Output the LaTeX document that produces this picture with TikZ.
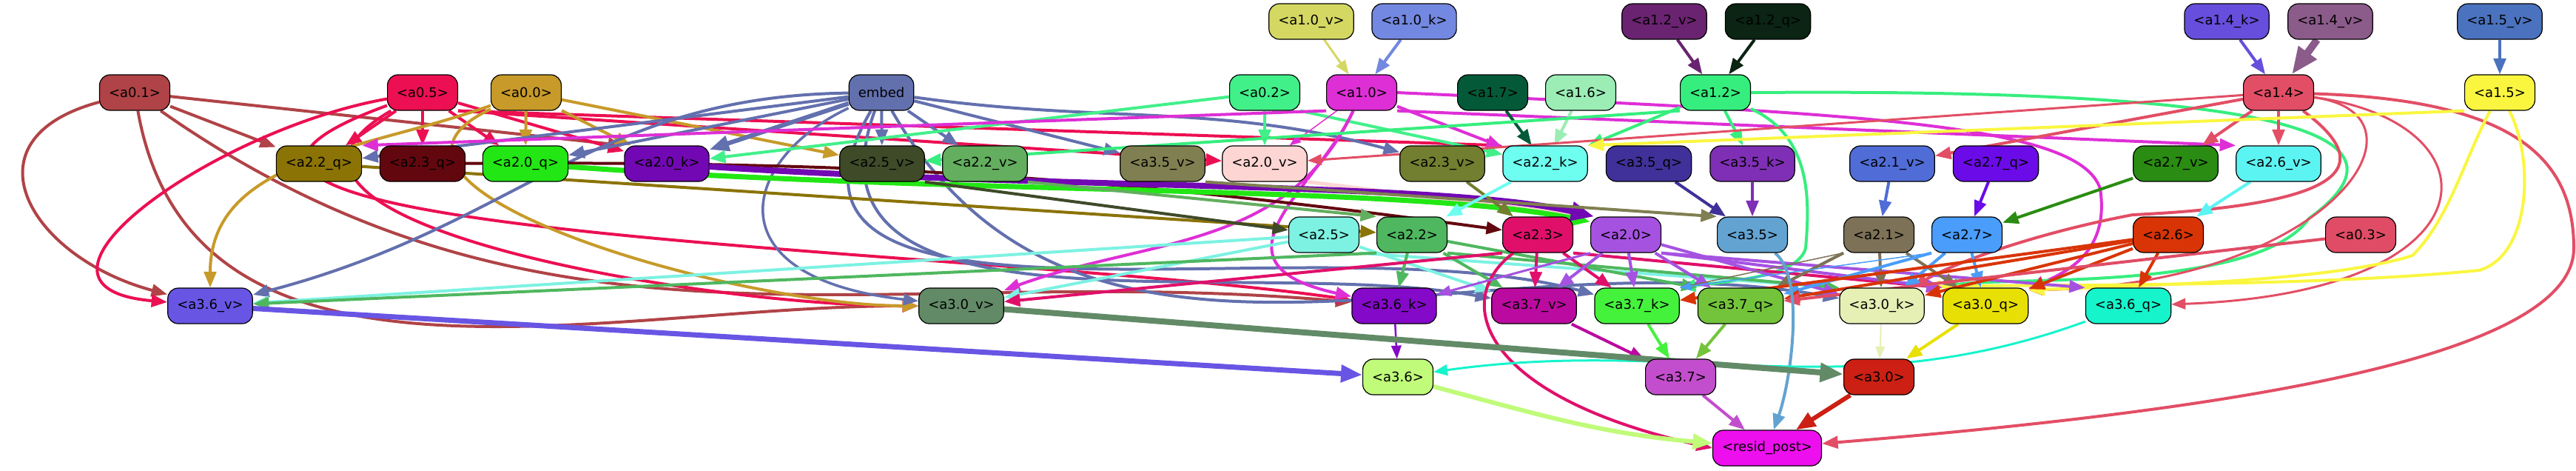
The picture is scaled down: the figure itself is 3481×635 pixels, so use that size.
\documentclass[tikz,border=0pt]{standalone}
\usepackage{fontspec}
\setmainfont{DejaVu Sans}
\usetikzlibrary{arrows.meta,backgrounds}
\definecolor{c10v}{HTML}{D4D862}
\definecolor{c10k}{HTML}{7388E0}
\definecolor{c12v}{HTML}{6A2370}
\definecolor{c12q}{HTML}{0B2413}
\definecolor{c14k}{HTML}{674EDC}
\definecolor{c14v}{HTML}{8B5B8A}
\definecolor{c15v}{HTML}{4A72BE}
\definecolor{c01}{HTML}{B04347}
\definecolor{c05}{HTML}{EC0F52}
\definecolor{c00}{HTML}{C79A29}
\definecolor{cembed}{HTML}{6370AE}
\definecolor{c02}{HTML}{42F08A}
\definecolor{c10}{HTML}{DE2FD6}
\definecolor{c17}{HTML}{045A38}
\definecolor{c16}{HTML}{9BEDB5}
\definecolor{c12}{HTML}{36EE7E}
\definecolor{c14}{HTML}{E24E65}
\definecolor{c15}{HTML}{FAF640}
\definecolor{c22q}{HTML}{8B7306}
\definecolor{c23q}{HTML}{63070F}
\definecolor{c20q}{HTML}{22E714}
\definecolor{c20k}{HTML}{7208B3}
\definecolor{c25v}{HTML}{3F4A29}
\definecolor{c22v}{HTML}{63AE5F}
\definecolor{c35v}{HTML}{7F7F51}
\definecolor{c20v}{HTML}{FDD5D3}
\definecolor{c23v}{HTML}{727E30}
\definecolor{c22k}{HTML}{6DFEF0}
\definecolor{c35q}{HTML}{3F3199}
\definecolor{c35k}{HTML}{7F2FB5}
\definecolor{c21v}{HTML}{506CD7}
\definecolor{c27q}{HTML}{6B0BE8}
\definecolor{c27v}{HTML}{2A8C12}
\definecolor{c26v}{HTML}{5CF4F2}
\definecolor{c25}{HTML}{7DF2E2}
\definecolor{c22}{HTML}{4FB75F}
\definecolor{c23}{HTML}{E0106A}
\definecolor{c20}{HTML}{A552E1}
\definecolor{c35}{HTML}{63A3D1}
\definecolor{c21}{HTML}{7D7257}
\definecolor{c27}{HTML}{4A9DFA}
\definecolor{c26}{HTML}{D93406}
\definecolor{c03}{HTML}{E04C65}
\definecolor{c36v}{HTML}{6855E4}
\definecolor{c30v}{HTML}{628A67}
\definecolor{c36k}{HTML}{8409C8}
\definecolor{c37v}{HTML}{BB0AA0}
\definecolor{c37k}{HTML}{44F23C}
\definecolor{c37q}{HTML}{73C43A}
\definecolor{c30k}{HTML}{E6EFB4}
\definecolor{c30q}{HTML}{E8E005}
\definecolor{c36q}{HTML}{16F4CC}
\definecolor{c36}{HTML}{C0FB7A}
\definecolor{c37}{HTML}{C34ECD}
\definecolor{c30}{HTML}{CB2013}
\definecolor{cresid}{HTML}{EE0FEF}
\tikzset{
  headbox/.style={draw=black,line width=0.12pt,rounded corners=1.4pt,minimum height=4.8pt,
    inner xsep=1.25pt,inner ysep=0.3pt,font=\fontsize{1.8}{2.2}\selectfont}
}
\begin{document}
\begin{tikzpicture}[x=0.1pt,y=0.1pt]
  \useasboundingbox (0,0) rectangle (3481,635);
  \draw
    (1772,606) node[headbox,fill=c10v] (a10v){<a1.0\_v>}
    (1911,606) node[headbox,fill=c10k] (a10k){<a1.0\_k>}
    (2249,606) node[headbox,fill=c12v] (a12v){<a1.2\_v>}
    (2389,606) node[headbox,fill=c12q] (a12q){<a1.2\_q>}
    (3009,606) node[headbox,fill=c14k] (a14k){<a1.4\_k>}
    (3149,606) node[headbox,fill=c14v] (a14v){<a1.4\_v>}
    (3378,606) node[headbox,fill=c15v] (a15v){<a1.5\_v>}
    (182,510) node[headbox,fill=c01] (a01){<a0.1>}
    (571,510) node[headbox,fill=c05] (a05){<a0.5>}
    (711,510) node[headbox,fill=c00] (a00){<a0.0>}
    (1191,510) node[headbox,fill=cembed] (embed){embed}
    (1709,510) node[headbox,fill=c02] (a02){<a0.2>}
    (1840,510) node[headbox,fill=c10] (a10){<a1.0>}
    (2017,510) node[headbox,fill=c17] (a17){<a1.7>}
    (2136,510) node[headbox,fill=c16] (a16){<a1.6>}
    (2318,510) node[headbox,fill=c12] (a12){<a1.2>}
    (3079,510) node[headbox,fill=c14] (a14){<a1.4>}
    (3378,510) node[headbox,fill=c15] (a15){<a1.5>}
    (431,414) node[headbox,fill=c22q] (a22q){<a2.2\_q>}
    (571,414) node[headbox,fill=c23q] (a23q){<a2.3\_q>}
    (710,414) node[headbox,fill=c20q] (a20q){<a2.0\_q>}
    (901,414) node[headbox,fill=c20k] (a20k){<a2.0\_k>}
    (1192,414) node[headbox,fill=c25v] (a25v){<a2.5\_v>}
    (1331,414) node[headbox,fill=c22v] (a22v){<a2.2\_v>}
    (1571,414) node[headbox,fill=c35v] (a35v){<a3.5\_v>}
    (1709,414) node[headbox,fill=c20v] (a20v){<a2.0\_v>}
    (1949,414) node[headbox,fill=c23v] (a23v){<a2.3\_v>}
    (2088,414) node[headbox,fill=c22k] (a22k){<a2.2\_k>}
    (2228,414) node[headbox,fill=c35q] (a35q){<a3.5\_q>}
    (2368,414) node[headbox,fill=c35k] (a35k){<a3.5\_k>}
    (2557,414) node[headbox,fill=c21v] (a21v){<a2.1\_v>}
    (2697,414) node[headbox,fill=c27q] (a27q){<a2.7\_q>}
    (2940,414) node[headbox,fill=c27v] (a27v){<a2.7\_v>}
    (3079,414) node[headbox,fill=c26v] (a26v){<a2.6\_v>}
    (1789,318) node[headbox,fill=c25] (a25){<a2.5>}
    (1908,318) node[headbox,fill=c22] (a22){<a2.2>}
    (2078,318) node[headbox,fill=c23] (a23){<a2.3>}
    (2197,318) node[headbox,fill=c20] (a20){<a2.0>}
    (2368,318) node[headbox,fill=c35] (a35){<a3.5>}
    (2539,318) node[headbox,fill=c21] (a21){<a2.1>}
    (2658,318) node[headbox,fill=c27] (a27){<a2.7>}
    (2930,318) node[headbox,fill=c26] (a26){<a2.6>}
    (3190,318) node[headbox,fill=c03] (a03){<a0.3>}
    (284,222) node[headbox,fill=c36v] (a36v){<a3.6\_v>}
    (1299,222) node[headbox,fill=c30v] (a30v){<a3.0\_v>}
    (1884,222) node[headbox,fill=c36k] (a36k){<a3.6\_k>}
    (2073,222) node[headbox,fill=c37v] (a37v){<a3.7\_v>}
    (2212,222) node[headbox,fill=c37k] (a37k){<a3.7\_k>}
    (2352,222) node[headbox,fill=c37q] (a37q){<a3.7\_q>}
    (2543,222) node[headbox,fill=c30k] (a30k){<a3.0\_k>}
    (2683,222) node[headbox,fill=c30q] (a30q){<a3.0\_q>}
    (2876,222) node[headbox,fill=c36q] (a36q){<a3.6\_q>}
    (1889,126) node[headbox,fill=c36] (a36){<a3.6>}
    (2271,126) node[headbox,fill=c37] (a37){<a3.7>}
    (2539,126) node[headbox,fill=c30] (a30){<a3.0>}
    (2388,30) node[headbox,fill=cresid] (resid){<resid\_post>};
  \begin{scope}[on background layer,line width=0.05pt,-{Triangle[length=1.15pt 2.5,width=0.85pt 2]}]
    \draw[c10v,line width=0.3pt] (a10v) to (a10);
    \draw[c10k] (a10k) to (a10);
    \draw[c12v] (a12v) to (a12);
    \draw[c12q] (a12q) to (a12);
    \draw[c14k] (a14k) to (a14);
    \draw[c14v,line width=1pt] (a14v) to (a14);
    \draw[c15v] (a15v) to (a15);
    \draw[c01] (a01) to (a22q);
    \draw[c01] (a01) to (a20k.north west);
    \draw[c01] (a01) to[out=195,in=165,looseness=1.8] (a36v);
    \draw[c01] (a01) to[out=-80,in=180] (a30v);
    \draw[c01] (a01) to[out=-35,in=175] (a36k);
    \draw[c05] (a05) to (a22q);
    \draw[c05] (a05) to (a23q);
    \draw[c05] (a05) to (a20q);
    \draw[c05] (a05) to (a20k);
    \draw[c05] (a05.south east) to (a20v);
    \draw[c05] (a05.south east) to (a22k.north west);
    \draw[c05] (a05) to[out=190,in=175,looseness=1.5] (a36v);
    \draw[c05] (a05) to[out=210,in=180] (a30v);
    \draw[c05] (a05) to[out=200,in=172] (a36k);
    \draw[c00] (a00) to (a20q);
    \draw[c00] (a00) to (a20k);
    \draw[c00] (a00) to (a25v);
    \draw[c00] (a00) to[out=200,in=90] (a36v);
    \draw[c00] (a00) to[out=205,in=180] (a30v);
    \draw[cembed,line width=0.4pt] (embed) to (a20q);
    \draw[cembed,line width=0.6pt] (embed) to (a20k);
    \draw[cembed,line width=0.4pt] (embed) .. controls (800,505) and (700,330) .. (a36v);
    \draw[cembed,line width=0.35pt] (embed) .. controls (1000,420) and (960,260) .. (a30v);
    \draw[cembed] (embed) to (a22q);
    \draw[cembed] (embed) to (a25v);
    \draw[cembed] (embed) to (a22v);
    \draw[cembed] (embed) to (a35v);
    \draw[cembed] (embed) to[out=-8,in=165] (a23v);
    \draw[cembed] (embed) to[out=-110,in=170] (a37v);
    \draw[cembed] (embed) to[out=-120,in=165] (a37k);
    \draw[cembed] (embed) to[out=-60,in=170] (a30k);
    \draw[c02] (a02) to (a20v);
    \draw[c02] (a02) to (a20k);
    \draw[c02] (a02.south east) to (a22k);
    \draw[c10,line width=0.15pt] (a10) to (a20v);
    \draw[c10] (a10) to (a22k);
    \draw[c10] (a10.south west) to (a22q.north east);
    \draw[c10] (a10.south east) to (a26v.north west);
    \draw[c10] (a10) .. controls (1780,380) and (1620,280) .. (a36k);
    \draw[c10] (a10) to[out=245,in=20] (a30v);
    \draw[c10] (a10.east) .. controls (2500,482) and (2810,470) .. (2838,380)
      .. controls (2850,300) and (2800,270) .. (a30q);
    \draw[c17] (a17) to (a22k);
    \draw[c16] (a16) to (a22k);
    \draw[c12] (a12.south west) to (a25v);
    \draw[c12] (a12) to (a22k);
    \draw[c12] (a12) to (a35k);
    \draw[c12] (a12.east) .. controls (3000,515) and (3300,470) .. (3120,340)
      .. controls (3050,240) and (2700,262) .. (a30q.north west);
    \draw[c12] (a12) .. controls (2450,450) and (2445,360) .. (2440,300)
      .. controls (2430,260) and (2330,255) .. (a37k.north east);
    \draw[c14,line width=0.3pt] (a14) to (a20v);
    \draw[c14] (a14) to (a21v);
    \draw[c14] (a14) to (a27v);
    \draw[c14] (a14) to (a26v);
    \draw[c14,line width=0.3pt] (a14) .. controls (3300,480) and (3150,250) .. (a30q.20);
    \draw[c14,line width=0.3pt] (a14) .. controls (3380,470) and (3380,240) .. (a36q);
    \draw[c14] (a14) .. controls (3400,500) and (3478,420) .. (3478,300)
      .. controls (3478,150) and (3000,80) .. (resid);
    \draw[c14] (a14) .. controls (3200,420) and (3200,360) .. (2882,345)
      .. controls (2750,320) and (2640,280) .. (a30k);
    \draw[c15] (a15.south west) to (a22k.north east);
    \draw[c15] (a15) .. controls (3330,420) and (3310,340) .. (3260,290)
      .. controls (3150,255) and (2900,250) .. (a30q.20);
    \draw[c15] (a15) .. controls (3425,420) and (3420,290) .. (3350,270)
      .. controls (3100,245) and (2700,252) .. (a30k.north east);
    \draw[c22q] (a22q) to (a22);
    \draw[c23q] (a23q) to[bend left=4] (a23);
    \draw[c20v,line width=0.5pt] (a20v.south east) to (a20.north west);
    \draw[c20q,line width=0.7pt] (a20q) .. controls (1300,372) and (1900,385) .. (a20.160);
    \draw[c20k,line width=0.8pt] (a20k) .. controls (1400,380) and (1950,390) .. (a20.150);
    \draw[c25v] (a25v.south east) to (a25);
    \draw[c22v] (a22v.south east) to (a22.north west);
    \draw[c35v] (a35v.south east) to (a35.north west);
    \draw[c23v] (a23v) to (a23);
    \draw[c22k] (a22k) to (a22);
    \draw[c35q] (a35q) to (a35);
    \draw[c35k] (a35k) to (a35);
    \draw[c21v] (a21v) to (a21);
    \draw[c27q] (a27q) to (a27);
    \draw[c27v] (a27v) to (a27);
    \draw[c26v] (a26v) to (a26);
    \draw[c25] (a25) to (a36v);
    \draw[c25] (a25) to (a30v);
    \draw[c25] (a25) to (a37v);
    \draw[c25] (a25.south east) to (a30k.north west);
    \draw[c22] (a22.south west) to (a36v);
    \draw[c22] (a22) to (a36k);
    \draw[c22] (a22) to (a37v);
    \draw[c22] (a22) to (a37q.north west);
    \draw[c22] (a22.south east) to (a30k.north west);
    \draw[c23] (a23) to (a37v);
    \draw[c23] (a23) to (a37k);
    \draw[c23] (a23.south west) to (a30v);
    \draw[c23] (a23.south east) to (a30q.north west);
    \draw[c23] (a23) .. controls (1960,230) and (2000,100) .. (resid.west);
    \draw[c20,line width=0.3pt] (a20.south west) to (a36k);
    \draw[c20] (a20) to (a37v);
    \draw[c20] (a20) to (a37k);
    \draw[c20] (a20) to (a37q);
    \draw[c20,line width=0.4pt] (a20) to (a30k);
    \draw[c20] (a20.south east) to (a36q.north west);
    \draw[c20] (a20.south east) to (a30q.north west);
    \draw[c21] (a21) to (a37q);
    \draw[c21] (a21) to (a30k);
    \draw[c21] (a21) to (a30q);
    \draw[c21,line width=0.15pt] (a21.south west) to (a37k.north east);
    \draw[c27] (a27) to (a30k);
    \draw[c27] (a27) to (a30q);
    \draw[c27] (a27.south west) to (a37q);
    \draw[c27,line width=0.15pt] (a27.south west) to (a37k.north east);
    \draw[c26] (a26) to (a36q);
    \draw[c26] (a26) to (a30q);
    \draw[c26] (a26) to (a37q);
    \draw[c26] (a26) to (a37k);
    \draw[c26] (a26) to (a30k);
    \draw[c03] (a03) to (a37q);
    \draw[c35] (a35) .. controls (2440,260) and (2420,120) .. (resid);
    \draw[c36v,line width=0.7pt] (a36v) to (a36);
    \draw[c36k,line width=0.25pt] (a36k) to (a36);
    \draw[c36q,line width=0.3pt] (a36q) to[out=200,in=8] (a36);
    \draw[c37v] (a37v) to (a37);
    \draw[c37k] (a37k) to (a37);
    \draw[c37q] (a37q) to (a37);
    \draw[c30v,line width=0.8pt] (a30v) to (a30);
    \draw[c30k,line width=0.2pt] (a30k) to (a30);
    \draw[c30q,line width=0.4pt] (a30q) to (a30);
    \draw[c36,line width=0.6pt] (a36) to[out=-15,in=175] (resid);
    \draw[c37] (a37) to (resid);
    \draw[c30,line width=0.6pt] (a30) to (resid);
  \end{scope}
\end{tikzpicture}
\end{document}
